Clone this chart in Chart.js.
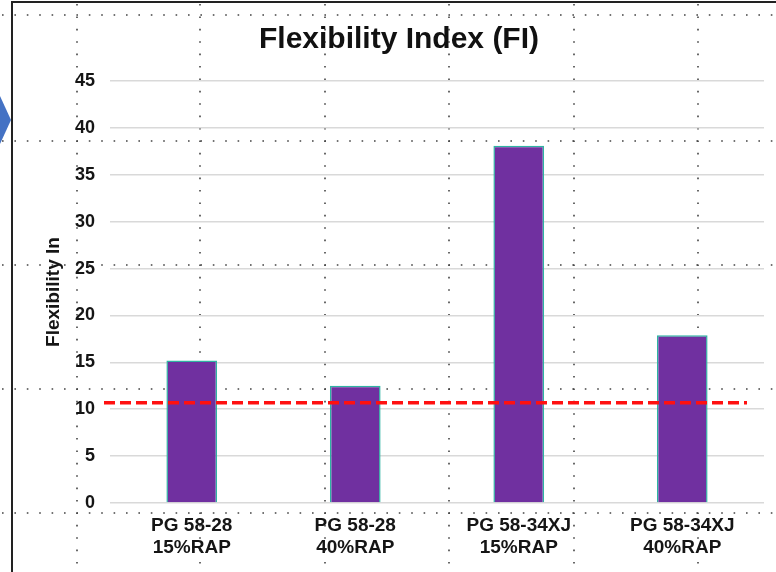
<!DOCTYPE html>
<html>
<head>
<meta charset="utf-8">
<script src="https://cdn.jsdelivr.net/npm/chart.js@4"></script>
<style>
    html, body { margin: 0; padding: 0; background: #fff; }
    #wrap { width: 776px; height: 572px; position: relative; }
</style>
</head>
<body>
<div id="wrap"><canvas id="fiChart" width="776" height="572"></canvas></div>
<script>
// values
const categories = [
    ['PG 58-28', '15%RAP'],
    ['PG 58-28', '40%RAP'],
    ['PG 58-34XJ', '15%RAP'],
    ['PG 58-34XJ', '40%RAP']
];
const fiValues = [15.2, 12.5, 38.1, 17.9];
const threshold = 10.7;
const yTicks = [0, 5, 10, 15, 20, 25, 30, 35, 40, 45];

const FONT = "'Liberation Sans', Arial, sans-serif";

// slide decoration: border, guide dots, blue arrow at the left edge
const slideBackground = {
    id: 'slideBackground',
    beforeDraw(chart) {
        const ctx = chart.ctx;
        const w = chart.width, h = chart.height;
        ctx.save();
        ctx.fillStyle = '#fff';
        ctx.fillRect(0, 0, w, h);

        // dotted guides
        ctx.strokeStyle = '#444';
        ctx.lineWidth = 1.6;
        ctx.setLineDash([1.6, 10.8]);
        [15, 141, 265, 389, 513].forEach(y => {
            ctx.beginPath();
            ctx.moveTo(2, y);
            ctx.lineTo(w, y);
            ctx.stroke();
        });
        [77, 200, 325, 449, 574, 698].forEach(x => {
            ctx.beginPath();
            ctx.moveTo(x, 4);
            ctx.lineTo(x, h);
            ctx.stroke();
        });
        ctx.setLineDash([]);

        // frame
        ctx.strokeStyle = '#222';
        ctx.lineWidth = 2;
        ctx.beginPath();
        ctx.moveTo(12, h);
        ctx.lineTo(12, 2);
        ctx.lineTo(w, 2);
        ctx.stroke();

        // blue arrow
        ctx.fillStyle = '#4472c4';
        ctx.beginPath();
        ctx.moveTo(0, 96);
        ctx.lineTo(11, 120);
        ctx.lineTo(0, 144);
        ctx.closePath();
        ctx.fill();

        // title
        ctx.fillStyle = '#111';
        ctx.font = 'bold 30px ' + FONT;
        ctx.textAlign = 'center';
        ctx.textBaseline = 'middle';
        ctx.fillText('Flexibility Index (FI)', 399, 40);
        ctx.restore();
    }
};

// red dashed threshold line
const thresholdLine = {
    id: 'thresholdLine',
    afterDatasetsDraw(chart) {
        const { ctx, chartArea, scales } = chart;
        const y = scales.y.getPixelForValue(threshold);
        ctx.save();
        ctx.strokeStyle = '#ff1010';
        ctx.lineWidth = 3.5;
        ctx.setLineDash([11, 5]);
        ctx.beginPath();
        ctx.moveTo(chartArea.left - 6, y);
        ctx.lineTo(chartArea.right - 17, y);
        ctx.stroke();
        ctx.restore();
    }
};

new Chart(document.getElementById('fiChart').getContext('2d'), {
    type: 'bar',
    data: {
        labels: categories,
        datasets: [{
            label: 'FI',
            data: fiValues,
            backgroundColor: '#7030a0',
            borderColor: '#2fb3a3',
            borderWidth: 1.5,
            barPercentage: 0.31,
            categoryPercentage: 1
        }]
    },
    options: {
        responsive: false,
        animation: false,
        layout: { padding: { left: 30, right: 12, top: 81, bottom: 10 } },
        plugins: {
            legend: { display: false },
            title: { display: false },
            tooltip: { enabled: false }
        },
        scales: {
            x: {
                grid: { display: false, drawTicks: false },
                border: { display: false },
                ticks: {
                    color: '#151515',
                    padding: 12,
                    maxRotation: 0,
                    font: { family: FONT, size: 19, weight: 'bold', lineHeight: 1.16 }
                },
                afterFit(scale) { scale.height = 59; }
            },
            y: {
                min: 0,
                max: 45,
                afterBuildTicks(scale) {
                    scale.ticks = yTicks.map(v => ({ value: v }));
                },
                grid: { color: '#d9d9d9', lineWidth: 1.5, drawTicks: false },
                border: { display: false },
                ticks: {
                    color: '#151515',
                    padding: 15,
                    font: { family: FONT, size: 18, weight: 'bold' }
                },
                title: {
                    display: true,
                    text: 'Flexibility In',
                    color: '#151515',
                    padding: { top: 12, bottom: 0 },
                    font: { family: FONT, size: 19, weight: 'bold' }
                },
                afterFit(scale) { scale.width = 80; }
            }
        }
    },
    plugins: [slideBackground, thresholdLine]
});
</script>
</body>
</html>
